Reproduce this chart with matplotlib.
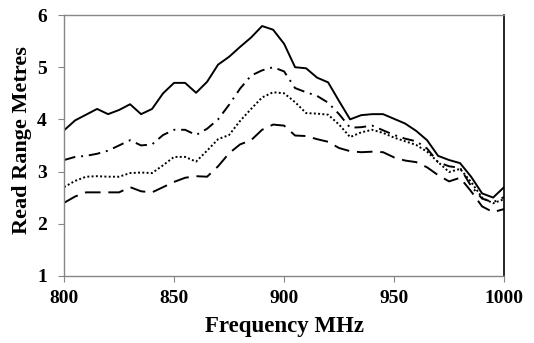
import matplotlib
matplotlib.use("Agg")
import matplotlib.pyplot as plt

# ── Data (5 MHz steps) ────────────────────────────────────────────────────────
freq = list(range(800, 1001, 5))

solid = [3.79, 3.98, 4.09, 4.20, 4.10, 4.18, 4.29, 4.10, 4.20, 4.50,
         4.70, 4.70, 4.51, 4.72, 5.05, 5.20, 5.39, 5.57, 5.79, 5.72,
         5.45, 5.00, 4.98, 4.80, 4.71, 4.35, 4.00, 4.08, 4.10, 4.10,
         4.01, 3.92, 3.78, 3.60, 3.30, 3.22, 3.16, 2.90, 2.58, 2.50,
         2.70]
dashdot = [3.22, 3.28, 3.30, 3.34, 3.40, 3.50, 3.60, 3.50, 3.52, 3.70,
           3.80, 3.80, 3.70, 3.82, 4.00, 4.28, 4.59, 4.84, 4.94, 5.00,
           4.92, 4.60, 4.52, 4.45, 4.32, 4.10, 3.84, 3.85, 3.88, 3.79,
           3.70, 3.63, 3.58, 3.44, 3.18, 3.10, 3.07, 2.72, 2.48, 2.41,
           2.51]
dotted = [2.70, 2.82, 2.90, 2.91, 2.90, 2.90, 2.97, 2.98, 2.97, 3.12,
          3.28, 3.28, 3.19, 3.40, 3.62, 3.70, 3.97, 4.20, 4.42, 4.52,
          4.50, 4.33, 4.12, 4.11, 4.09, 3.90, 3.66, 3.75, 3.80, 3.74,
          3.65, 3.58, 3.51, 3.38, 3.18, 2.99, 3.05, 2.80, 2.50, 2.39,
          2.47]
dashed = [2.40, 2.52, 2.60, 2.60, 2.60, 2.60, 2.70, 2.62, 2.60, 2.70,
          2.80, 2.88, 2.91, 2.90, 3.10, 3.35, 3.52, 3.60, 3.80, 3.90,
          3.88, 3.69, 3.68, 3.62, 3.57, 3.45, 3.39, 3.37, 3.38, 3.37,
          3.27, 3.21, 3.18, 3.08, 2.93, 2.81, 2.88, 2.62, 2.33, 2.22,
          2.28]

x_ticks = [800, 850, 900, 950, 1000]
y_ticks = [1, 2, 3, 4, 5, 6]

# ── Plot ──────────────────────────────────────────────────────────────────────
plt.rcParams["font.family"] = ["Liberation Serif", "DejaVu Serif"]
plt.rcParams["font.weight"] = "bold"

fig = plt.figure(figsize=(5.34, 3.43), dpi=100)
ax = fig.add_axes([0.12, 0.196, 0.824, 0.76])

lw = 1.4
ax.plot(freq, solid,   color="black", linewidth=lw, linestyle="-")
ax.plot(freq, dashdot, color="black", linewidth=lw, linestyle=(0, (6, 3, 1, 3)))
ax.plot(freq, dotted,  color="black", linewidth=lw, linestyle=(0, (1, 1.2)))
ax.plot(freq, dashed,  color="black", linewidth=lw, linestyle=(0, (8, 4)))

ax.set_xlim(800, 1000)
ax.set_ylim(1, 6)
ax.set_xticks(x_ticks)
ax.set_yticks(y_ticks)
ax.tick_params(axis="both", labelsize=14, colors="#868686", length=4.5,
               width=0.8, direction="out", labelcolor="black")
ax.tick_params(axis="x", pad=6)
ax.tick_params(axis="y", pad=8)

for side in ("left", "top", "bottom"):
    ax.spines[side].set_color("#868686")
    ax.spines[side].set_linewidth(1.0)
ax.spines["right"].set_color("black")
ax.spines["right"].set_linewidth(1.2)

ax.set_xlabel("Frequency MHz", fontsize=16.5, fontweight="bold")
ax.set_ylabel("Read Range Metres", fontsize=16, fontweight="bold")
ax.xaxis.set_label_coords(0.5, -0.155)
ax.yaxis.set_label_coords(-0.072, 0.52)

fig.savefig("out.png", dpi=100)
plt.close(fig)
